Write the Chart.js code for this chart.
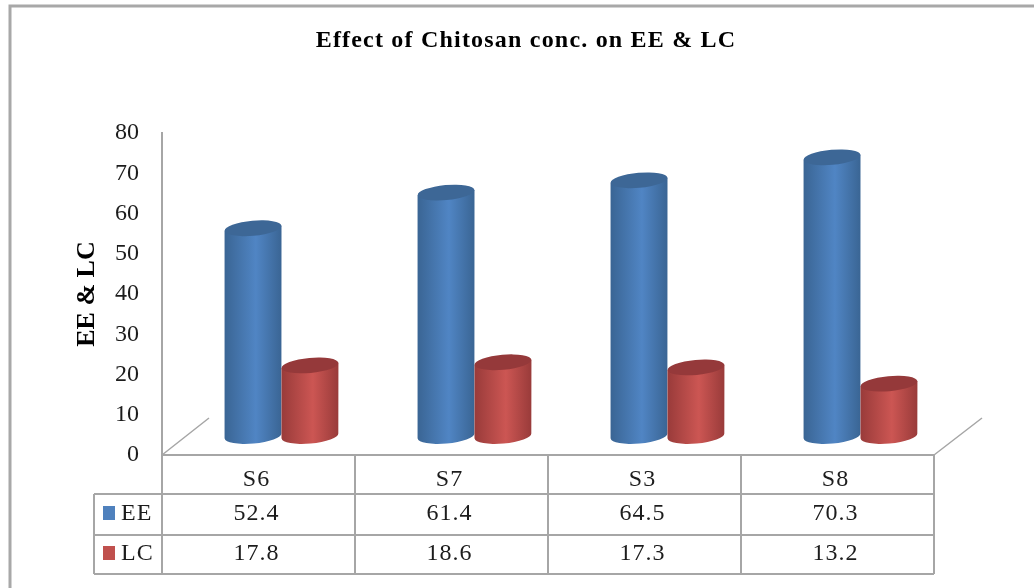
<!DOCTYPE html>
<html>
<head>
<meta charset="utf-8">
<style>
  html, body { margin: 0; padding: 0; background: #fff; }
  #wrap { position: relative; width: 1034px; height: 588px; }
  canvas { display: block; }
</style>
<script src="https://cdn.jsdelivr.net/npm/chart.js@4"></script>
</head>
<body>
<div id="wrap"><canvas id="c" width="1034" height="588"></canvas></div>
<script>
const categories = ['S6', 'S7', 'S3', 'S8'];
const eeValues = [52.4, 61.4, 64.5, 70.3];
const lcValues = [17.8, 18.6, 17.3, 13.2];
const yTicks = [0, 10, 20, 30, 40, 50, 60, 70, 80];

const SERIF = '"Liberation Serif", "Times New Roman", serif';
const GRID = '#a6a6a6';
const INK = '#1c1c1c';
const TITLE = 'Effect of Chitosan conc. on EE & LC';

// Offset of the columns from the front of the floor, towards the back wall,
// and the slight height reduction that comes with standing further back.
const DEPTH = { x: 23, y: -19, shrink: 0.985 };
const TILT = -0.09;
const RY = 7.5;

const palette = {
  EE: { edge: '#3a6594', mid: '#5085c4', top: '#3d6796', key: '#4f81bd' },
  LC: { edge: '#993b3a', mid: '#cc5653', top: '#95393a', key: '#c0504d' }
};

function drawCylinder(ctx, cx, topY, baseY, w, col) {
  const rx = w / 2;
  const left = cx - rx, right = cx + rx;
  const g = ctx.createLinearGradient(left, 0, right, 0);
  g.addColorStop(0, col.edge);
  g.addColorStop(0.55, col.mid);
  g.addColorStop(1, col.edge);
  const dy = Math.sin(TILT) * rx;
  ctx.fillStyle = g;
  ctx.beginPath();
  ctx.moveTo(left, topY - dy);
  ctx.lineTo(left, baseY - dy);
  ctx.ellipse(cx, baseY, rx, RY, TILT, Math.PI, 0, true);
  ctx.lineTo(right, topY + dy);
  ctx.closePath();
  ctx.fill();
  ctx.fillStyle = col.top;
  ctx.beginPath();
  ctx.ellipse(cx, topY, rx, RY, TILT, 0, Math.PI * 2);
  ctx.fill();
}

// Draws each dataset's elements as cylinders and adds the floor and data table.
const cylinderPlugin = {
  id: 'cylinders',
  afterDatasetsDraw(chart) {
    const ctx = chart.ctx;
    const { x, y } = chart.scales;
    const floorY = y.getPixelForValue(0);
    ctx.save();

    // Frame along the top and left of the chart
    ctx.strokeStyle = '#a8a8a8';
    ctx.lineWidth = 3;
    ctx.beginPath();
    ctx.moveTo(10, 588); ctx.lineTo(10, 6); ctx.lineTo(1034, 6);
    ctx.stroke();

    // Heading, spaced out across the top
    ctx.fillStyle = '#000';
    ctx.font = 'bold 24px ' + SERIF;
    ctx.letterSpacing = '1.2px';
    ctx.textAlign = 'center';
    ctx.textBaseline = 'middle';
    ctx.fillText(TITLE, 526, 41);
    ctx.letterSpacing = '0px';

    // Floor edges receding from the front corners
    ctx.strokeStyle = GRID;
    ctx.lineWidth = 1.5;
    ctx.beginPath();
    ctx.moveTo(x.left, floorY); ctx.lineTo(x.left + 47, floorY - 37);
    ctx.moveTo(x.right, floorY); ctx.lineTo(x.right + 48, floorY - 37);
    ctx.stroke();

    // Columns, first series first so the red one overlaps the blue
    ['EE', 'LC'].forEach((name, di) => {
      chart.getDatasetMeta(di).data.forEach(bar => {
        const baseY = bar.base + DEPTH.y;
        const topY = baseY + (bar.y - bar.base) * DEPTH.shrink;
        drawCylinder(ctx, bar.x + DEPTH.x, topY, baseY, bar.width, palette[name]);
      });
    });

    // Data table below the axis
    const rowY = [floorY, floorY + 39, floorY + 80, floorY + 119];
    const tableLeft = 94;
    const step = (x.right - x.left) / categories.length;
    ctx.strokeStyle = GRID;
    ctx.lineWidth = 2;
    ctx.beginPath();
    ctx.moveTo(x.left, rowY[0]); ctx.lineTo(x.right, rowY[0]);
    for (let r = 1; r < rowY.length; r++) {
      ctx.moveTo(tableLeft, rowY[r]); ctx.lineTo(x.right, rowY[r]);
    }
    ctx.moveTo(tableLeft, rowY[1]); ctx.lineTo(tableLeft, rowY[3]);
    for (let c = 0; c <= categories.length; c++) {
      const vx = x.left + step * c;
      ctx.moveTo(vx, rowY[0]); ctx.lineTo(vx, rowY[3]);
    }
    ctx.stroke();

    ctx.fillStyle = INK;
    ctx.font = '24px ' + SERIF;
    ctx.letterSpacing = '1px';
    ctx.textAlign = 'center';
    ctx.textBaseline = 'middle';
    categories.forEach((cat, i) => {
      const cx = x.getPixelForValue(i) - 2;
      ctx.fillText(cat, cx, rowY[0] + 25);
      ctx.fillText(eeValues[i].toFixed(1), cx, rowY[1] + 20);
      ctx.fillText(lcValues[i].toFixed(1), cx, rowY[2] + 19);
    });

    // Series keys in the table's first column
    ctx.textAlign = 'left';
    [['EE', rowY[1] + 19], ['LC', rowY[2] + 18]].forEach(([name, ty]) => {
      ctx.fillStyle = palette[name].key;
      ctx.fillRect(103, ty - 7, 12, 14);
      ctx.fillStyle = INK;
      ctx.fillText(name, 121, ty + 1);
    });
    ctx.restore();
  }
};

new Chart(document.getElementById('c'), {
  type: 'bar',
  data: {
    labels: categories,
    datasets: [
      { label: 'EE', data: eeValues, backgroundColor: 'rgba(0,0,0,0)', borderWidth: 0, categoryPercentage: 0.59, barPercentage: 1 },
      { label: 'LC', data: lcValues, backgroundColor: 'rgba(0,0,0,0)', borderWidth: 0, categoryPercentage: 0.59, barPercentage: 1 }
    ]
  },
  plugins: [cylinderPlugin],
  options: {
    responsive: false,
    animation: false,
    layout: { padding: { top: 133, left: 72, right: 100, bottom: 133 } },
    plugins: {
      legend: { display: false },
      tooltip: { enabled: false },
      title: { display: false }
    },
    scales: {
      x: {
        afterFit(scale) { scale.height = 0; },
        grid: { display: false },
        border: { display: false },
        ticks: { display: false }
      },
      y: {
        min: 0,
        max: 80,
        afterBuildTicks(scale) { scale.ticks = yTicks.map(v => ({ value: v })); },
        afterFit(scale) { scale.width = 90; },
        grid: { display: false, drawTicks: false },
        border: { display: true, color: GRID, width: 2 },
        ticks: { color: INK, font: { family: SERIF, size: 24 }, padding: 23 },
        title: {
          display: true,
          text: 'EE & LC',
          color: '#000',
          font: { family: SERIF, size: 26, weight: 'bold' },
          padding: { top: 0, bottom: 0 }
        }
      }
    }
  }
});
</script>
</body>
</html>
